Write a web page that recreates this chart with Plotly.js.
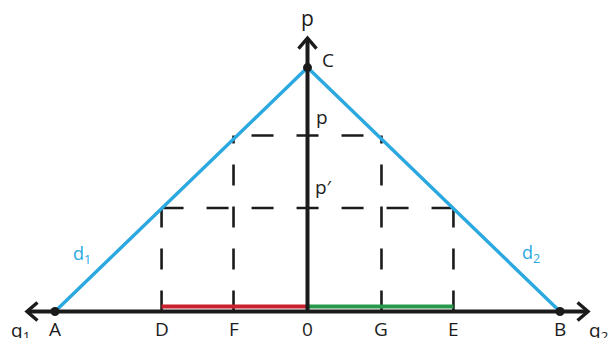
<!DOCTYPE html>
<html>
<head>
<meta charset="utf-8">
<script src="https://cdn.plot.ly/plotly-3.0.1.min.js"></script>
<style>html,body{margin:0;padding:0;background:#fff;}#chart{width:610px;height:338px;}</style>
</head>
<body>
<div id="chart"></div>
<script>
// ---- data (quantity units, q1 to the left, q2 to the right) ----
const pointLabels = ['A', 'D', 'F', '0', 'G', 'E', 'B'];
const pointQ = [-10, -5.78, -2.93, 0, 2.93, 5.78, 10];
const peakPrice = 9.66;            // point C
const priceLabels = ['p', 'p′'];
const priceValues = [6.97, 4.1];   // p (upper), p' (lower)
const demandLabels = ['d<sub>1</sub>', 'd<sub>2</sub>'];
const demandLabelQ = [-8.93, 8.86];
const demandLabelP = [2.24, 2.29];
const axisLabels = ['q<sub>1</sub>', 'q<sub>2</sub>', 'p'];
const qAxisEnd = 11.11;
const pAxisEnd = 10.83;

// ---- helpers ----
const PX = 25.25;                 // pixels per unit
const ORIGIN = [307.5, 311.5];    // pixel position of (0,0)
const W = 610, H = 338;
const q = name => pointQ[pointLabels.indexOf(name)];
const BLACK = '#1b1b1b', BLUE = '#2aa8df', RED = '#c9212e', GREEN = '#27984a';

const traces = [];
function line(x, y, color, width, dash) {
  traces.push({x, y, mode: 'lines', type: 'scatter', hoverinfo: 'skip',
    line: {color, width, dash: dash || 'solid'}});
}
const pHigh = priceValues[0], pLow = priceValues[1];

// dashed vertical lines (drawn upward from the q axis)
line([q('D'), q('D')], [0, pLow], BLACK, 2.6, '21px,21px');
line([q('F'), q('F')], [0, pHigh], BLACK, 2.6, '21px,21px');
line([q('G'), q('G')], [0, pHigh], BLACK, 2.6, '21px,21px');
line([q('E'), q('E')], [0, pLow], BLACK, 2.6, '21px,21px');
// dashed horizontal lines
line([q('D'), q('E')], [pLow, pLow], BLACK, 2.6, '22px,23px');
line([q('F'), q('G')], [pHigh, pHigh], BLACK, 2.6, '0px,18px,22px,23px,22px,23px,22px,40px');

// coloured segments on the q axis
const segOffset = 5 / PX;
line([q('D'), q('0')], [segOffset, segOffset], RED, 4);
line([q('0'), q('E')], [segOffset, segOffset], GREEN, 4);

// axes
line([-qAxisEnd, qAxisEnd], [0, 0], BLACK, 4);
line([0, 0], [0, pAxisEnd], BLACK, 4);
const ab = 10.5 / PX, aw = 9 / PX;
line([-qAxisEnd + ab, -qAxisEnd, -qAxisEnd + ab], [aw, 0, -aw], BLACK, 3.4);
line([qAxisEnd - ab, qAxisEnd, qAxisEnd - ab], [aw, 0, -aw], BLACK, 3.4);
line([-aw, 0, aw], [pAxisEnd - ab, pAxisEnd, pAxisEnd - ab], BLACK, 3.4);

// demand lines d1 and d2
line([q('A'), 0], [0, peakPrice], BLUE, 3.4);
line([0, q('B')], [peakPrice, 0], BLUE, 3.4);

// dots A, B, C
traces.push({x: [q('A'), q('B'), 0], y: [0, 0, peakPrice], mode: 'markers', type: 'scatter',
  hoverinfo: 'skip', marker: {color: BLACK, size: 9}});

// ---- annotations ----
const FONT = 'Open Sans, DejaVu Sans, sans-serif';
const ann = [];
function label(text, x, y, opts) {
  ann.push(Object.assign({text, x, y, xref: 'x', yref: 'y', showarrow: false,
    xanchor: 'center', yanchor: 'middle',
    font: {family: FONT, size: 19, color: BLACK}}, opts || {}));
}
const belowY = -17.5 / PX;
pointLabels.forEach((t, i) => label(t, pointQ[i], belowY));
label(axisLabels[0], -qAxisEnd, belowY, {xshift: -6, yshift: -2});
label(axisLabels[1], qAxisEnd, belowY, {xshift: 10, yshift: -2});
label(axisLabels[2], 0, pAxisEnd, {yshift: 20, font: {family: FONT, size: 21, color: BLACK}});
label('C', 0, peakPrice, {xshift: 20, yshift: 8});
label(priceLabels[0], 0, pHigh, {xshift: 14, yshift: 19});
label(priceLabels[1], 0, pLow, {xshift: 16, yshift: 21});
demandLabels.forEach((t, i) => label(t, demandLabelQ[i], demandLabelP[i],
  {font: {family: FONT, size: 18, color: BLUE}}));

const layout = {
  width: W, height: H,
  margin: {l: 0, r: 0, t: 0, b: 0, pad: 0},
  paper_bgcolor: '#ffffff', plot_bgcolor: '#ffffff',
  showlegend: false,
  xaxis: {range: [-ORIGIN[0] / PX, (W - ORIGIN[0]) / PX], visible: false, fixedrange: true},
  yaxis: {range: [-(H - ORIGIN[1]) / PX, ORIGIN[1] / PX], visible: false, fixedrange: true},
  annotations: ann
};
Plotly.newPlot('chart', traces, layout, {displayModeBar: false, staticPlot: true});
</script>
</body>
</html>
